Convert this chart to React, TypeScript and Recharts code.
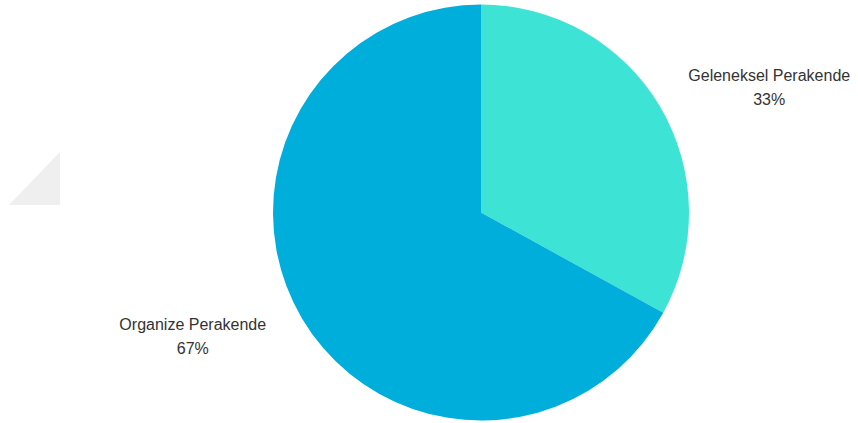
import React from 'react';
import { PieChart, Pie, Cell } from 'recharts';

// segment names and shares (%)
const segments = ['Geleneksel Perakende', 'Organize Perakende'];
const shares = [33, 67];
const colors = ['#3DE3D5', '#00AEDC'];

const data = segments.map((name, i) => ({ name, value: shares[i] }));

const RADIAN = Math.PI / 180;

// label placed on an ellipse around the pie, two lines: name + percent
const renderLabel = (props: any) => {
    const { cx, cy, midAngle, outerRadius, name, value } = props;
    const cos = Math.cos(-midAngle * RADIAN);
    const sin = Math.sin(-midAngle * RADIAN);
    const x = cx + cos * outerRadius * 1.61;
    const y = cy + sin * outerRadius * 1.175;
    return (
        <text x={x} y={y} textAnchor="middle" fill="#333" fontSize={16} fontFamily="'Liberation Sans', Arial, sans-serif">
            <tspan x={x} dy={-7}>{name}</tspan>
            <tspan x={x} dy={24}>{value}%</tspan>
        </text>
    );
};

export default function App() {
    return (
        <div style={{ position: 'absolute', left: 0, top: 0, width: 858, height: 423, background: '#fff' }}>
            {/* faint grey decoration on the left */}
            <svg width={858} height={423} style={{ position: 'absolute', left: 0, top: 0 }}>
                <polygon points="60,152 60,205 9,205" fill="#efefef" />
            </svg>
            <div style={{ position: 'absolute', left: 0, top: 0 }}>
                <PieChart width={858} height={423} margin={{ top: 0, right: 0, bottom: 0, left: 0 }}>
                    <Pie
                        data={data}
                        dataKey="value"
                        nameKey="name"
                        cx={481}
                        cy={212.5}
                        outerRadius={208}
                        startAngle={90}
                        endAngle={-270}
                        stroke="none"
                        labelLine={false}
                        label={renderLabel}
                        isAnimationActive={false}
                    >
                        {data.map((entry, index) => (
                            <Cell key={`cell-${index}`} fill={colors[index]} />
                        ))}
                    </Pie>
                </PieChart>
            </div>
        </div>
    );
}
